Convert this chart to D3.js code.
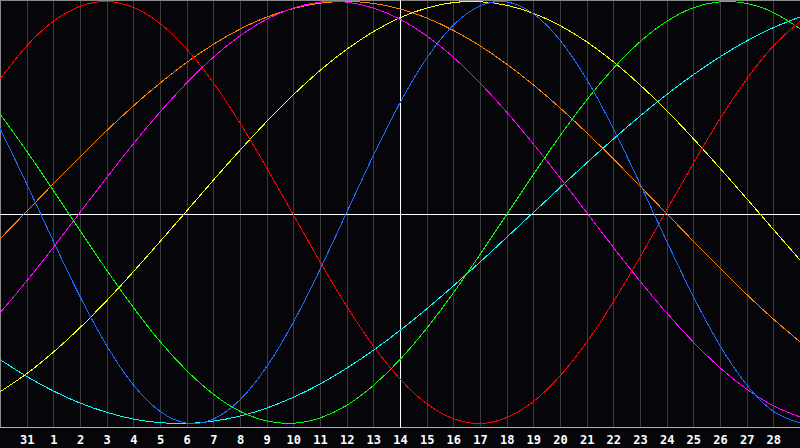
<!DOCTYPE html>
<html>
<head>
<meta charset="utf-8">
<script src="https://cdn.jsdelivr.net/npm/d3@7"></script>
<style>
  html, body { margin: 0; padding: 0; background: #060509; }
  svg { display: block; }
</style>
</head>
<body>
<div id="chart"></div>
<script>
// day labels under the grid lines (index 1..29)
var dayLabels = ["31","1","2","3","4","5","6","7","8","9","10","11","12","13","14",
  "15","16","17","18","19","20","21","22","23","24","25","26","27","28"];

// one value per grid step (0..30)
var physical = [0.398,0.136,-0.136,-0.398,-0.631,-0.817,-0.942,-0.998,-0.979,-0.888,-0.731,-0.520,-0.270,0,0.270,
  0.520,0.731,0.888,0.979,0.998,0.942,0.817,0.631,0.398,0.136,-0.136,-0.398,-0.631,-0.817,-0.942,-0.998];
var emotional = [0.632,0.789,0.906,0.977,1.000,0.972,0.896,0.775,0.615,0.424,0.212,-0.011,-0.233,-0.444,-0.632,
  -0.789,-0.906,-0.977,-1.000,-0.972,-0.896,-0.775,-0.615,-0.424,-0.212,0.011,0.233,0.444,0.632,0.789,0.906];
var intellectual = [0.467,0.291,0.105,-0.086,-0.273,-0.450,-0.611,-0.749,-0.861,-0.942,-0.988,-0.999,-0.974,-0.914,-0.820,
  -0.697,-0.549,-0.381,-0.199,-0.010,0.180,0.363,0.533,0.683,0.809,0.906,0.970,0.998,0.991,0.948,0.871];
var intuitive = [-0.476,-0.325,-0.165,0,0.165,0.325,0.476,0.614,0.736,0.837,0.916,0.969,0.997,0.997,0.969,
  0.916,0.837,0.736,0.614,0.476,0.325,0.165,0,-0.165,-0.325,-0.476,-0.614,-0.736,-0.837,-0.916,-0.969];
var aesthetic = [-0.850,-0.764,-0.662,-0.546,-0.418,-0.281,-0.138,0.007,0.153,0.295,0.431,0.558,0.673,0.773,0.857,
  0.923,0.969,0.995,0.999,0.982,0.944,0.886,0.809,0.715,0.605,0.483,0.350,0.210,0.066,-0.080,-0.225];
var awareness = [-0.125,0.005,0.136,0.264,0.388,0.505,0.613,0.711,0.797,0.869,0.926,0.967,0.992,1.000,0.991,
  0.965,0.922,0.863,0.790,0.703,0.605,0.496,0.378,0.254,0.125,-0.005,-0.136,-0.264,-0.388,-0.505,-0.613];
var spiritual = [-0.697,-0.777,-0.846,-0.903,-0.947,-0.979,-0.996,-1.000,-0.989,-0.965,-0.927,-0.876,-0.813,-0.738,-0.653,
  -0.559,-0.457,-0.348,-0.235,-0.118,0,0.118,0.235,0.348,0.457,0.559,0.653,0.738,0.813,0.876,0.927];

var series = [
  { name: "spiritual", values: spiritual, color: "#00ffff" },
  { name: "awareness", values: awareness, color: "#ff8000" },
  { name: "aesthetic", values: aesthetic, color: "#ffff00" },
  { name: "intuitive", values: intuitive, color: "#ff00ff" },
  { name: "intellectual", values: intellectual, color: "#00ff00" },
  { name: "emotional", values: emotional, color: "#ff0000" },
  { name: "physical", values: physical, color: "#1a6cff" }
];

var width = 800;
var height = 448;
var plotH = 428;

var x = d3.scaleLinear()
  .domain([0, 30])
  .range([0, width]);

var y = d3.scaleLinear()
  .domain([-1, 1])
  .range([423.5, 1.5]);

var svg = d3.select("#chart")
  .append("svg")
  .attr("width", width)
  .attr("height", height)
  .style("background", "#060509");

svg.append("clipPath").attr("id", "plot")
  .append("rect").attr("x", 0).attr("y", 0).attr("width", width).attr("height", plotH);

// vertical day grid
var grid = svg.append("g")
  .attr("transform", "translate(0," + plotH + ")")
  .call(d3.axisBottom(x)
    .tickValues(d3.range(1, 30))
    .tickSize(-plotH)
    .tickFormat(""));
grid.select(".domain").remove();
grid.selectAll("line")
  .attr("stroke", "#3c3c3c")
  .attr("shape-rendering", "crispEdges");

// frame
svg.append("line").attr("x1", 0).attr("x2", width).attr("y1", 0.5).attr("y2", 0.5)
  .attr("stroke", "#8a8a8a");
svg.append("line").attr("x1", 0.5).attr("x2", 0.5).attr("y1", 0).attr("y2", plotH)
  .attr("stroke", "#8a8a8a");
svg.append("line").attr("x1", 0).attr("x2", width).attr("y1", plotH - 0.5).attr("y2", plotH - 0.5)
  .attr("stroke", "#b0b0b0");

// today + zero line
svg.append("line")
  .attr("x1", Math.round(x(15)) + 0.5).attr("x2", Math.round(x(15)) + 0.5)
  .attr("y1", 0).attr("y2", plotH)
  .attr("stroke", "#ffffff");
svg.append("line")
  .attr("x1", 0).attr("x2", width)
  .attr("y1", plotH / 2 + 0.5).attr("y2", plotH / 2 + 0.5)
  .attr("stroke", "#ffffff");

var line = d3.line()
  .x(function(d, i) { return x(i); })
  .y(function(d) { return y(d); })
  .curve(d3.curveNatural);

svg.append("g")
  .attr("clip-path", "url(#plot)")
  .selectAll("path")
  .data(series)
  .enter().append("path")
  .attr("d", function(d) { return line(d.values); })
  .attr("fill", "none")
  .attr("stroke", function(d) { return d.color; })
  .attr("stroke-width", 1)
  .attr("shape-rendering", "crispEdges");

// day numbers
var axis = svg.append("g")
  .attr("transform", "translate(0," + plotH + ")")
  .call(d3.axisBottom(x)
    .tickValues(d3.range(1, 30))
    .tickSize(0)
    .tickPadding(7)
    .tickFormat(function(d) { return dayLabels[d - 1]; }));
axis.select(".domain").remove();
axis.selectAll("text")
  .attr("fill", "#ffffff")
  .style("font-family", "'DejaVu Sans Mono', monospace")
  .style("font-weight", "bold")
  .style("font-size", "12px");
</script>
</body>
</html>
